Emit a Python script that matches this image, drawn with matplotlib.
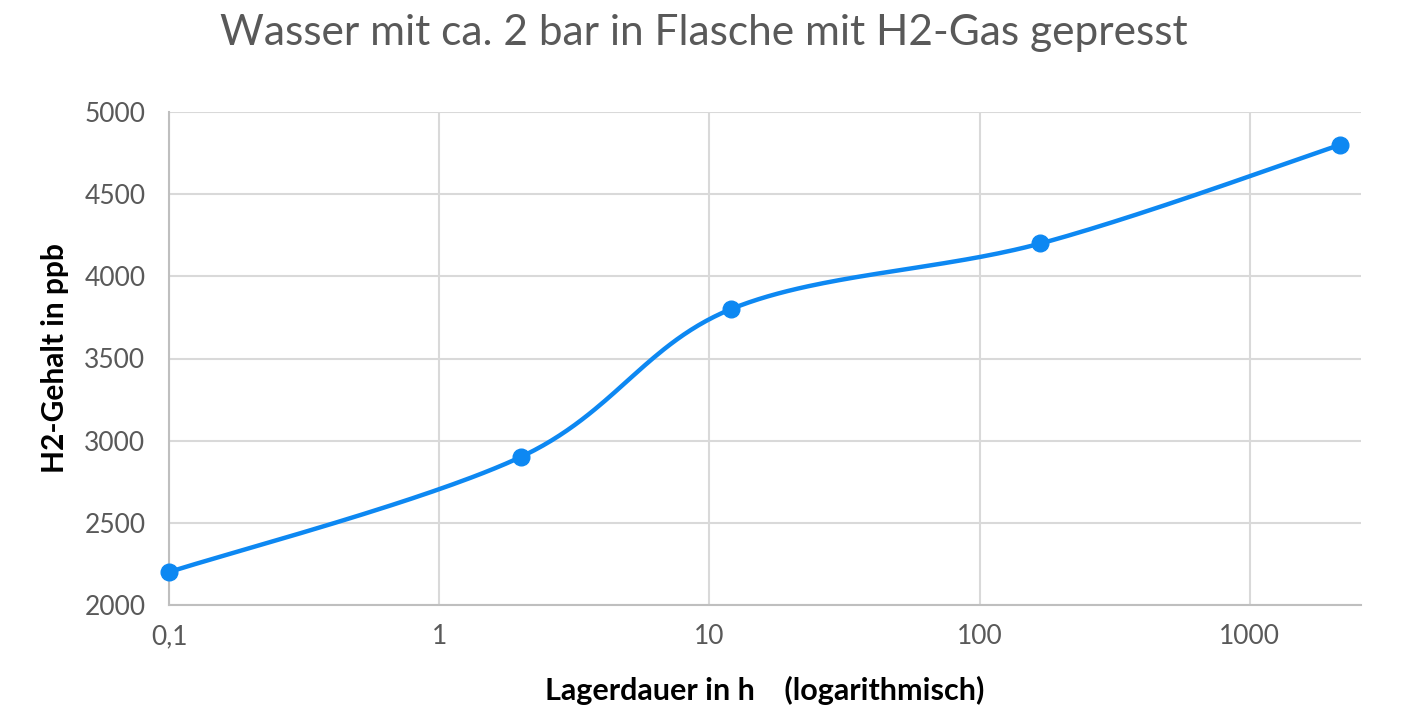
import numpy as np
import matplotlib
matplotlib.use("Agg")
import matplotlib.pyplot as plt
from matplotlib.ticker import FixedLocator, FixedFormatter, NullLocator

hours = [0.1, 2, 12, 168, 2160]
h2_ppb = [2200, 2900, 3800, 4200, 4800]
x_ticks = [0.1, 1, 10, 100, 1000]
x_tick_labels = ["0,1", "1", "10", "100", "1000"]
y_ticks = [2000, 2500, 3000, 3500, 4000, 4500, 5000]

title = "Wasser mit ca. 2 bar in Flasche mit H2-Gas gepresst"
xlabel = "Lagerdauer in h    (logarithmisch)"
ylabel = "H2-Gehalt in ppb"

plt.rcParams['font.family'] = ['Lato', 'DejaVu Sans']

W, H = 1407, 720
fig = plt.figure(figsize=(W/100, H/100), dpi=100)
ax = fig.add_axes([169/W, 1-605/H, (1361-169)/W, (605-112)/H])
ax.set_xscale('log')
xmin, xmax = 0.1, 2580
ymin, ymax = 2000, 5000
ax.set_xlim(xmin, xmax)
ax.set_ylim(ymin, ymax)

# smooth curve (Excel-like Catmull-Rom Bezier in screen space)
axw, axh = 1361-169, 605-112
px = (np.log10(hours) - np.log10(xmin)) / (np.log10(xmax) - np.log10(xmin)) * axw
py = (np.array(h2_ppb, float) - ymin) / (ymax - ymin) * axh
P = np.column_stack([px, py])
n = len(P)
curve = []
for i in range(n-1):
    p0 = P[i-1] if i > 0 else P[i]
    p1, p2 = P[i], P[i+1]
    p3 = P[i+2] if i+2 < n else P[i+1]
    c1 = p1 + (p2 - p0) / 6
    c2 = p2 - (p3 - p1) / 6
    t = np.linspace(0, 1, 60)[:, None]
    seg = (1-t)**3*p1 + 3*(1-t)**2*t*c1 + 3*(1-t)*t**2*c2 + t**3*p2
    curve.append(seg if i == 0 else seg[1:])
curve = np.vstack(curve)
cx = 10**(curve[:, 0] / axw * (np.log10(xmax) - np.log10(xmin)) + np.log10(xmin))
cy = curve[:, 1] / axh * (ymax - ymin) + ymin

color = '#0D88F2'
ax.plot(cx, cy, color=color, lw=3.2, solid_capstyle='round', zorder=3, clip_on=False)
ax.plot(hours, h2_ppb, 'o', color=color, ms=12, zorder=4, clip_on=False)

ax.xaxis.set_major_locator(FixedLocator(x_ticks))
ax.xaxis.set_major_formatter(FixedFormatter(x_tick_labels))
ax.xaxis.set_minor_locator(NullLocator())
ax.set_yticks(y_ticks)
ax.grid(True, color='#D9D9D9', lw=1.5)
ax.set_axisbelow(True)
for s in ['top', 'right']:
    ax.spines[s].set_visible(False)
ax.spines['left'].set_color('#BFBFBF')
ax.spines['bottom'].set_color('#BFBFBF')
ax.spines['left'].set_linewidth(1.5)
ax.spines['bottom'].set_linewidth(1.5)
ax.tick_params(length=0, labelsize=19, colors='#595959', pad=14)
ax.tick_params(axis='y', pad=17)

fig.text(0.5, 1-33/H, title, ha='center', va='center', fontsize=30.5, color='#595959')
fig.text((169+1361)/2/W, 1-690/H, xlabel, ha='center', va='center', fontsize=22, fontweight='bold', color='black')
fig.text(55/W, 1-358/H, ylabel, ha='center', va='center', rotation=90, fontsize=21.5, fontweight='bold', color='black')

fig.savefig('out.png', dpi=100, facecolor='white')
